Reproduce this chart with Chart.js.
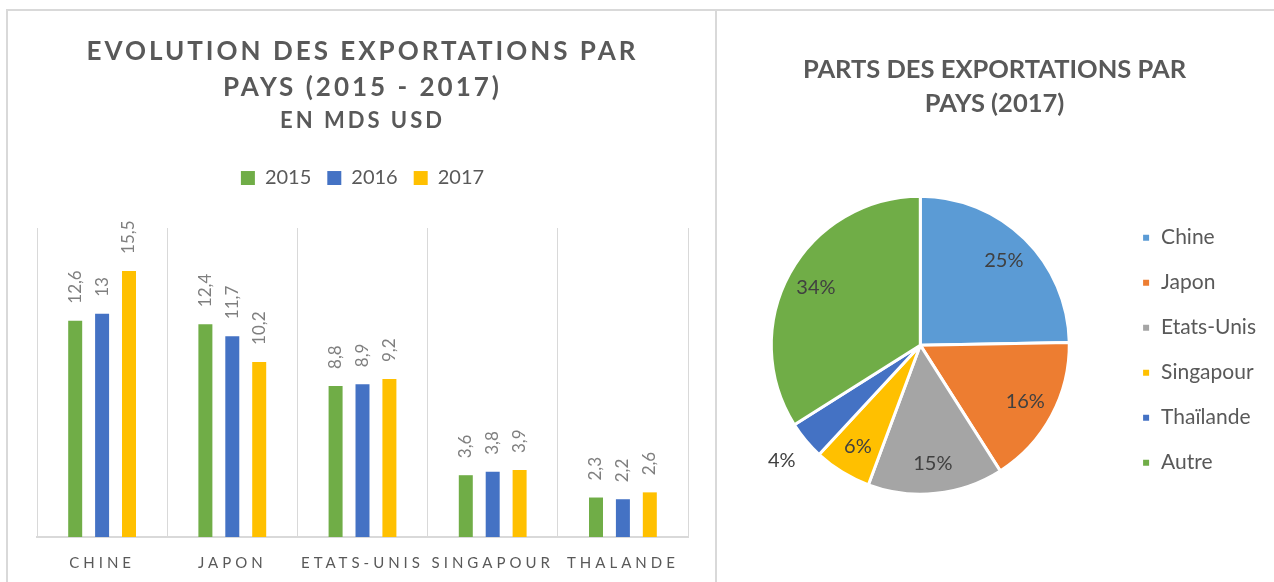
<!DOCTYPE html>
<html lang="fr">
<head>
<meta charset="utf-8">
<title>Exportations par pays</title>
<script src="https://cdn.jsdelivr.net/npm/chart.js@4.4.1/dist/chart.umd.min.js"></script>
<style>
  html, body { margin: 0; padding: 0; background: #fff; }
  body { width: 1274px; height: 582px; position: relative; overflow: hidden; }
  .frame { position: absolute; box-sizing: border-box; border: 0 solid #d9d9d9; }
  #frameLeft { left: 6px; top: 9px; width: 711px; height: 620px; border-width: 2px 2px 0 2px; }
  #frameRight { left: 717px; top: 9px; width: 600px; height: 620px; border-top-width: 2px; }
  .box { position: absolute; }
  #barBox { left: 9px; top: 11px; width: 706px; height: 590px; }
  #pieBox { left: 719px; top: 11px; width: 555px; height: 571px; }
</style>
</head>
<body>
<div class="frame" id="frameLeft"></div>
<div class="frame" id="frameRight"></div>
<div class="box" id="barBox"><canvas id="barChart"></canvas></div>
<div class="box" id="pieBox"><canvas id="pieChart"></canvas></div>

<script>
// --- data ---
const categories = ["CHINE", "JAPON", "ETATS-UNIS", "SINGAPOUR", "THALANDE"];
const years = ["2015", "2016", "2017"];
const values2015 = [12.6, 12.4, 8.8, 3.6, 2.3];
const values2016 = [13, 11.7, 8.9, 3.8, 2.2];
const values2017 = [15.5, 10.2, 9.2, 3.9, 2.6];
const yearColors = ["#70AD47", "#4472C4", "#FFC000"];

const pieLabels = ["Chine", "Japon", "Etats-Unis", "Singapour", "Thaïlande", "Autre"];
const pieValues = [15.5, 10.2, 9.2, 3.9, 2.6, 21.3];
const pieColors = ["#5B9BD5", "#ED7D31", "#A5A5A5", "#FFC000", "#4472C4", "#70AD47"];

const FONT = "Lato";
const GREY = "#595959";

// letter spacing for title, subtitle and x labels (not the legend)
const spacedText = {
  id: "spacedText",
  beforeLayout(chart) {
    chart.boxes.forEach((box) => {
      if (box === chart.legend || box._spaced) return;
      const px = box.axis ? "4px" : "3px";
      const draw = box.draw;
      box.draw = function (...args) {
        this.ctx.save();
        this.ctx.letterSpacing = px;
        draw.apply(this, args);
        this.ctx.restore();
      };
      box._spaced = true;
    });
  },
};

// rotated value labels above the bars
const barValueLabels = {
  id: "barValueLabels",
  afterDatasetsDraw(chart) {
    const ctx = chart.ctx;
    ctx.save();
    ctx.font = "17px " + FONT;
    ctx.fillStyle = "#7F7F7F";
    ctx.textAlign = "left";
    ctx.textBaseline = "middle";
    chart.data.datasets.forEach((ds, i) => {
      chart.getDatasetMeta(i).data.forEach((bar, j) => {
        const { x, y } = bar.getProps(["x", "y"], true);
        ctx.save();
        ctx.translate(x, y - 17);
        ctx.rotate(-Math.PI / 2);
        ctx.fillText(String(ds.data[j]).replace(".", ","), 0, 0);
        ctx.restore();
      });
    });
    ctx.restore();
  },
};

// percentages on the pie
const pieValueLabels = {
  id: "pieValueLabels",
  afterDatasetsDraw(chart) {
    const ctx = chart.ctx;
    const data = chart.data.datasets[0].data;
    const total = data.reduce((a, b) => a + b, 0);
    ctx.save();
    ctx.font = "20px " + FONT;
    ctx.fillStyle = "#404040";
    ctx.textAlign = "center";
    ctx.textBaseline = "middle";
    chart.getDatasetMeta(0).data.forEach((arc, i) => {
      const p = arc.getProps(["x", "y", "startAngle", "endAngle", "outerRadius"], true);
      const pct = Math.round((data[i] / total) * 100);
      const mid = (p.startAngle + p.endAngle) / 2;
      const r = pct < 5 ? p.outerRadius * 1.21 : p.outerRadius * 0.8;
      ctx.fillText(pct + "%", p.x + Math.cos(mid) * r, p.y + Math.sin(mid) * r);
    });
    ctx.restore();
  },
};

new Chart(document.getElementById("barChart"), {
  type: "bar",
  data: {
    labels: categories,
    datasets: [
      { label: years[0], data: values2015, backgroundColor: yearColors[0] },
      { label: years[1], data: values2016, backgroundColor: yearColors[1] },
      { label: years[2], data: values2017, backgroundColor: yearColors[2] },
    ],
  },
  options: {
    responsive: true,
    maintainAspectRatio: false,
    animation: false,
    events: [],
    layout: { padding: { left: 28, right: 27, top: 0, bottom: 12 } },
    datasets: { bar: { categoryPercentage: 0.62, barPercentage: 0.52 } },
    plugins: {
      title: {
        display: true,
        text: ["EVOLUTION DES EXPORTATIONS PAR", "PAYS (2015 - 2017)"],
        color: GREY,
        font: { family: FONT, size: 26, weight: "bold", lineHeight: 1.385 },
        padding: { top: 23, bottom: 0 },
      },
      subtitle: {
        display: true,
        text: "EN MDS USD",
        color: GREY,
        font: { family: FONT, size: 22, weight: "bold", lineHeight: 1.364 },
        padding: { top: 0, bottom: 16 },
      },
      legend: {
        position: "top",
        labels: {
          boxWidth: 14,
          boxHeight: 14,
          padding: 16,
          color: GREY,
          font: { family: FONT, size: 20 },
        },
      },
      tooltip: { enabled: false },
    },
    scales: {
      x: {
        grid: { color: "#D9D9D9", drawTicks: false, offset: true },
        border: { color: "#D9D9D9", width: 2 },
        ticks: {
          color: GREY,
          font: { family: FONT, size: 15 },
          padding: 17,
          maxRotation: 0,
          autoSkip: false,
        },
      },
      xTop: {
        axis: "x",
        position: "top",
        grid: { display: false, drawTicks: false },
        border: { display: false },
        ticks: { display: false },
        afterFit(scale) {
          scale.height = 30;
        },
      },
      y: { display: false, min: 0, max: 18 },
    },
  },
  plugins: [spacedText, barValueLabels],
});

new Chart(document.getElementById("pieChart"), {
  type: "pie",
  data: {
    labels: pieLabels,
    datasets: [
      {
        data: pieValues,
        backgroundColor: pieColors,
        borderColor: "#FFFFFF",
        borderWidth: 3,
        radius: 149,
      },
    ],
  },
  options: {
    responsive: true,
    maintainAspectRatio: false,
    animation: false,
    events: [],
    layout: { padding: { left: 4, right: 8, top: 0, bottom: 33 } },
    plugins: {
      title: {
        display: true,
        text: ["PARTS DES EXPORTATIONS PAR", "PAYS (2017)"],
        color: GREY,
        font: { family: FONT, size: 25.5, weight: "bold", lineHeight: 1.34 },
        padding: { top: 42, bottom: 20 },
      },
      legend: {
        position: "right",
        fullSize: false,
        title: { display: true, text: "", font: { size: 5 }, padding: 2 },
        labels: {
          boxWidth: 9,
          boxHeight: 9,
          padding: 24,
          color: GREY,
          font: { family: FONT, size: 21 },
        },
      },
      tooltip: { enabled: false },
    },
  },
  plugins: [pieValueLabels],
});
</script>
</body>
</html>
